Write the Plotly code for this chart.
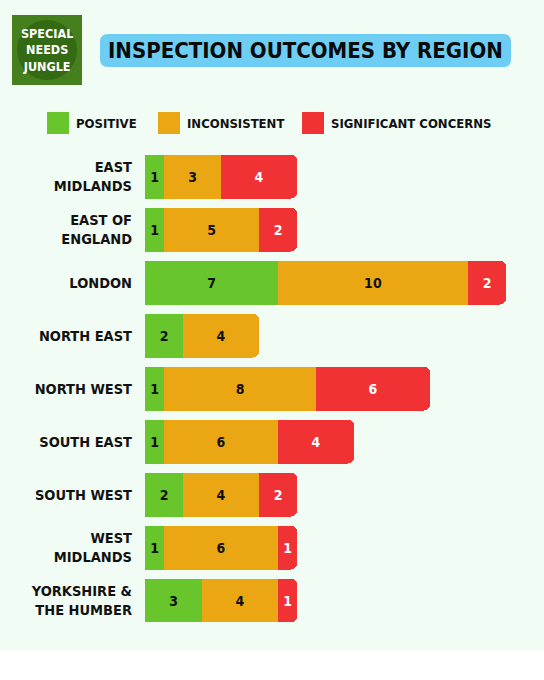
import plotly.graph_objects as go

regions = ["EAST<br>MIDLANDS", "EAST OF<br>ENGLAND", "LONDON", "NORTH EAST", "NORTH WEST",
           "SOUTH EAST", "SOUTH WEST", "WEST<br>MIDLANDS", "YORKSHIRE &<br>THE HUMBER"]
positive = [1, 1, 7, 2, 1, 1, 2, 1, 3]
inconsistent = [3, 5, 10, 4, 8, 6, 4, 6, 4]
significant = [4, 2, 2, 0, 6, 4, 2, 1, 1]
series_names = ["POSITIVE", "INCONSISTENT", "SIGNIFICANT CONCERNS"]
colors = ["#68c52b", "#eba713", "#f03234"]
text_colors = ["#111111", "#111111", "#ffffff"]

FONT = "DejaVu Sans Condensed, Liberation Sans Narrow, sans-serif"
BG = "#f1fcf4"

# pixel -> paper helpers (plot area: x 145..525, y 150..627)
L, T, W, H = 145, 150, 380, 477
def px(x):
    return (x - L) / W
def py(y):
    return (T + H - y) / H

fig = go.Figure()
for name, vals, c, tc in zip(series_names, [positive, inconsistent, significant], colors, text_colors):
    fig.add_trace(go.Bar(
        y=regions, x=vals, name=name, orientation="h",
        marker=dict(color=c, line=dict(width=0)),
        text=[str(v) if v else "" for v in vals],
        textposition="inside", insidetextanchor="middle", textangle=0,
        insidetextfont=dict(color=tc, size=14, family=FONT, weight="bold"),
        showlegend=False,
    ))

fig.update_layout(
    barmode="stack", bargap=0.17, barcornerradius=6,
    width=544, height=680,
    margin=dict(l=L, r=544 - L - W, t=T, b=680 - T - H),
    paper_bgcolor=BG, plot_bgcolor=BG,
    uniformtext=dict(minsize=14, mode="show"),
    xaxis=dict(range=[0, 20], visible=False, fixedrange=True),
    yaxis=dict(autorange="reversed", showgrid=False, zeroline=False, showline=False,
               ticks="", ticklabelstandoff=12,
               tickfont=dict(size=14.5, color="#111111", family=FONT, weight="bold")),
    font=dict(family=FONT),
)

# bottom white strip
fig.add_shape(type="rect", xref="paper", yref="paper", x0=-1, x1=2, y0=-0.3, y1=py(650),
              fillcolor="#ffffff", line=dict(width=0), layer="below")

# logo
fig.add_shape(type="rect", xref="paper", yref="paper",
              x0=px(12), x1=px(82), y0=py(85), y1=py(15),
              fillcolor="#457f1e", line=dict(width=0))
fig.add_shape(type="circle", xref="paper", yref="paper",
              x0=px(17), x1=px(77), y0=py(80), y1=py(20),
              fillcolor="#356a14", line=dict(width=0))
fig.add_annotation(xref="paper", yref="paper", x=px(47), y=py(50),
                   xanchor="center", yanchor="middle",
                   text="<b>SPECIAL<br>NEEDS<br>JUNGLE</b>", showarrow=False,
                   font=dict(color="#ffffff", size=12.5, family=FONT), align="center")

# title box (rounded)
x0, x1, y0, y1 = px(100), px(511), py(67), py(34)
rx, ry = 8 / W, 8 / H
path = (f"M {x0+rx},{y0} L {x1-rx},{y0} Q {x1},{y0} {x1},{y0+ry} L {x1},{y1-ry} "
        f"Q {x1},{y1} {x1-rx},{y1} L {x0+rx},{y1} Q {x0},{y1} {x0},{y1-ry} "
        f"L {x0},{y0+ry} Q {x0},{y0} {x0+rx},{y0} Z")
fig.add_shape(type="path", xref="paper", yref="paper", path=path,
              fillcolor="#6dcdf3", line=dict(width=0))
fig.add_annotation(xref="paper", yref="paper", x=px(305), y=py(50.5),
                   xanchor="center", yanchor="middle",
                   text="<b>INSPECTION OUTCOMES BY REGION</b>", showarrow=False,
                   font=dict(color="#0a0a0a", size=22, family=FONT))

# legend
leg_x = [47, 158, 302]
for lx, name, c in zip(leg_x, series_names, colors):
    fig.add_shape(type="rect", xref="paper", yref="paper",
                  x0=px(lx), x1=px(lx + 22), y0=py(134), y1=py(112),
                  fillcolor=c, line=dict(width=0))
    fig.add_annotation(xref="paper", yref="paper", x=px(lx + 27), y=py(123),
                       xanchor="left", yanchor="middle", text=name, showarrow=False,
                       font=dict(color="#111111", size=13, family=FONT, weight="bold"))

fig.write_html("out.html")
